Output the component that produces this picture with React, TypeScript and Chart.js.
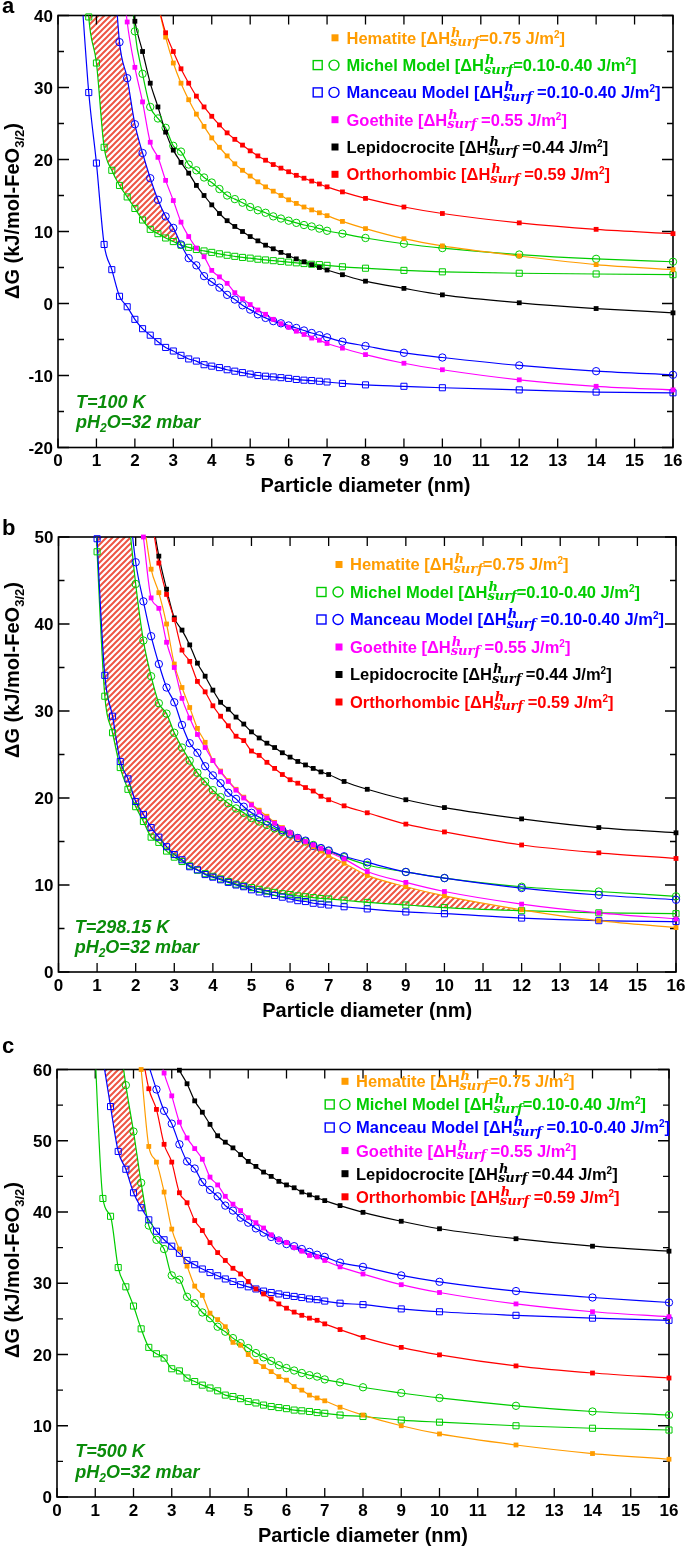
import React, { useEffect, useRef } from 'react';
import { Chart, registerables } from 'chart.js';

Chart.register(...registerables);

const N = null;

// particle diameters (nm) of the sampled points
const D = [0.6, 0.8, 1.0, 1.2, 1.4, 1.6, 1.8, 2.0, 2.2, 2.4, 2.6, 2.8, 3.0, 3.2, 3.4, 3.6, 3.8, 4.0, 4.2, 4.4, 4.6, 4.8, 5.0, 5.2, 5.4, 5.6, 5.8, 6.0, 6.2, 6.4, 6.6, 6.8, 7.0, 7.4, 8, 9, 10, 12, 14, 16];

// ---------- panel a (T = 100 K) ----------
const A_HEMATITE = [N, N, N, N, N, N, N, N, N, N, 41.5, 37.0, 33.4, 30.6, 28.3, 26.3, 24.6, 23.0, 21.7, 20.5, 19.4, 18.5, 17.7, 16.9, 16.2, 15.6, 15.0, 14.4, 13.9, 13.4, 13.0, 12.6, 12.2, 11.4, 10.4, 9.0, 8.0, 6.6, 5.4, 4.7];
const A_MICHEL_SQ = [60, 39.8, 33.4, 21.7, 18.5, 16.4, 14.8, 13.2, 11.6, 10.3, 9.7, 9.1, 8.6, 8.1, 7.8, 7.5, 7.3, 7.1, 6.9, 6.7, 6.55, 6.4, 6.3, 6.15, 6.05, 5.95, 5.85, 5.75, 5.65, 5.55, 5.45, 5.4, 5.3, 5.1, 4.9, 4.6, 4.4, 4.2, 4.1, 4.0];
const A_MICHEL_CI = [N, N, N, N, N, N, 52, 37.8, 31.9, 27.3, 25.7, 24.4, 21.9, 21.1, 19.3, 18.5, 17.5, 16.8, 15.9, 15.0, 14.5, 14.0, 13.4, 12.95, 12.6, 12.1, 11.8, 11.5, 11.2, 10.9, 10.7, 10.4, 10.1, 9.7, 9.1, 8.3, 7.7, 6.8, 6.2, 5.8];
const A_MANCEAU_SQ = [44, 29.3, 19.5, 8.2, 4.7, 1.0, -0.45, -2.2, -3.5, -4.4, -5.3, -6.1, -6.6, -7.2, -7.7, -8.0, -8.5, -8.7, -8.9, -9.2, -9.4, -9.6, -9.8, -10.0, -10.1, -10.2, -10.3, -10.4, -10.55, -10.65, -10.7, -10.8, -10.9, -11.1, -11.3, -11.5, -11.7, -12.0, -12.3, -12.4];
const A_MANCEAU_CI = [N, 130, 95, 70, 52, 36.3, 31.3, 24.9, 20.9, 17.4, 14.4, 12.1, 10.5, 8.2, 6.3, 5.3, 3.8, 3.0, 2.2, 1.2, 0.55, -0.25, -0.85, -1.5, -2.0, -2.45, -2.75, -3.05, -3.4, -3.75, -4.1, -4.4, -4.7, -5.3, -5.9, -6.85, -7.5, -8.6, -9.4, -9.9];
const A_GOETHITE = [N, N, N, N, N, 50, 39.1, 32.8, 28.0, 22.4, 20.3, 17.1, 14.3, 11.3, 9.3, 7.7, 6.5, 4.6, 3.7, 2.8, 1.5, 0.65, -0.15, -0.9, -1.5, -2.2, -2.8, -3.3, -3.85, -4.3, -4.8, -5.1, -5.55, -6.2, -7.1, -8.3, -9.2, -10.6, -11.5, -12.0];
const A_LEPIDO = [N, N, N, N, N, N, 47, 39.2, 35.0, 30.6, 27.3, 23.8, 21.3, 19.6, 18.1, 16.4, 15.0, 13.7, 12.5, 11.5, 10.7, 10.0, 9.3, 8.7, 8.1, 7.6, 7.1, 6.65, 6.2, 5.8, 5.4, 5.0, 4.65, 4.0, 3.1, 2.1, 1.2, 0.1, -0.7, -1.3];
const A_ORTHO = [N, N, N, N, N, N, N, N, N, N, 41.5, 37.6, 35.0, 32.6, 30.6, 28.8, 27.3, 26.0, 24.8, 23.7, 22.8, 22.0, 21.2, 20.5, 19.9, 19.3, 18.8, 18.3, 17.8, 17.4, 17.0, 16.6, 16.2, 15.5, 14.6, 13.4, 12.5, 11.2, 10.3, 9.7];
const A_YTICKS = [-20, -10, 0, 10, 20, 30, 40];

// ---------- panel b (T = 298.15 K) ----------
const B_HEMATITE = [N, N, N, N, N, N, N, N, 52, 46.3, 43.6, 40.0, 35.4, 32.7, 30.4, 28.0, 26.4, 24.3, 23.1, 22.0, 21.0, 20.1, 19.3, 18.6, 17.9, 17.2, 16.6, 16.0, 15.4, 14.9, 14.4, 13.9, 13.4, 12.5, 11.1, 9.8, 8.75, 7.15, 5.9, 5.1];
const B_MICHEL_SQ = [N, 70, 48.3, 31.7, 27.5, 23.5, 21.0, 19.0, 17.3, 15.5, 14.9, 13.9, 13.2, 12.7, 12.2, 11.7, 11.3, 11.0, 10.7, 10.4, 10.1, 9.9, 9.7, 9.5, 9.3, 9.15, 9.0, 8.9, 8.75, 8.65, 8.55, 8.45, 8.4, 8.25, 8.0, 7.7, 7.4, 7.05, 6.8, 6.7];
const B_MICHEL_CI = [N, N, N, N, N, N, 53, 44.6, 38.1, 34.0, 30.9, 29.7, 27.5, 25.8, 24.3, 22.9, 21.9, 20.9, 20.1, 19.4, 18.8, 18.3, 17.7, 17.3, 16.9, 16.5, 16.1, 15.8, 15.4, 15.0, 14.6, 14.2, 13.9, 13.2, 12.3, 11.5, 10.8, 9.8, 9.25, 8.7];
const B_MANCEAU_SQ = [N, 72, 49.8, 34.1, 29.4, 24.2, 22.2, 19.6, 18.1, 16.6, 15.5, 14.4, 13.5, 12.9, 12.1, 11.75, 11.2, 10.9, 10.6, 10.3, 10.0, 9.8, 9.45, 9.2, 9.0, 8.8, 8.6, 8.4, 8.2, 8.1, 7.9, 7.8, 7.7, 7.5, 7.25, 6.9, 6.7, 6.2, 5.9, 5.8];
const B_MANCEAU_CI = [N, N, N, N, N, N, 55, 47.1, 42.6, 38.6, 35.4, 32.7, 31.0, 28.4, 26.3, 25.2, 23.65, 22.6, 21.7, 20.6, 19.9, 19.0, 18.3, 17.8, 17.3, 16.7, 16.3, 15.9, 15.4, 15.1, 14.5, 14.25, 13.97, 13.3, 12.6, 11.5, 10.8, 9.65, 8.85, 8.3];
const B_GOETHITE = [N, N, N, N, N, N, N, 57, 50.0, 43.0, 41.8, 37.9, 35.0, 31.45, 29.2, 27.3, 25.8, 24.3, 23.0, 21.9, 20.9, 20.0, 19.2, 18.4, 17.7, 17.1, 16.5, 16.0, 15.5, 15.0, 14.6, 14.2, 13.8, 13.0, 11.55, 10.3, 9.25, 7.8, 6.8, 6.1];
const B_LEPIDO = [N, N, N, N, N, N, N, N, N, 53, 47.8, 44.0, 40.7, 39.3, 37.6, 35.5, 34.0, 32.4, 31.0, 30.2, 29.3, 28.5, 27.6, 26.9, 26.3, 25.8, 25.2, 24.7, 24.2, 23.8, 23.4, 23.0, 22.7, 21.9, 21.0, 19.8, 18.9, 17.6, 16.6, 16.0];
const B_ORTHO = [N, N, N, N, N, N, N, N, N, 52.5, 47.0, 43.4, 40.5, 37.0, 35.7, 33.4, 32.2, 30.6, 29.4, 28.3, 27.1, 26.6, 25.4, 24.9, 24.1, 23.4, 22.7, 22.1, 21.7, 21.2, 20.8, 20.2, 19.8, 19.1, 18.3, 17.0, 16.1, 14.6, 13.7, 13.05];
// upper edge of the hatched band in panel b
const B_HATCH_X = [1.0, 1.4, 1.8, 2.0, 2.2, 2.4, 2.6, 2.8, 3.0, 3.4, 3.8, 4.2, 4.6, 5.0, 5.6, 6.2, 7.0, 8, 9, 10, 11, 12];
const B_HATCH_Y = [120, 80, 53, 44.6, 38.1, 34.0, 30.9, 29.7, 27.5, 24.3, 21.9, 20.1, 18.8, 17.7, 16.5, 15.35, 13.4, 11.1, 9.8, 8.75, 7.9, 7.05];
const B_YTICKS = [0, 10, 20, 30, 40, 50];

// ---------- panel c (T = 500 K) ----------
const C_HEMATITE = [N, N, N, N, N, N, N, 70, 60.0, 49.2, 47.0, 42.8, 37.6, 34.8, 32.4, 29.6, 28.3, 25.8, 24.9, 23.9, 21.7, 21.3, 20.0, 19.0, 18.3, 17.6, 16.9, 16.4, 15.5, 15.0, 14.3, 13.9, 13.5, 12.6, 11.5, 10.0, 8.85, 7.3, 6.1, 5.3];
const C_MICHEL_SQ = [N, 90, 62, 41.9, 39.4, 32.2, 29.5, 26.8, 23.6, 21.0, 20.1, 19.5, 18.0, 17.7, 16.7, 16.2, 15.7, 15.3, 14.9, 14.3, 14.1, 13.8, 13.4, 13.2, 12.9, 12.7, 12.55, 12.4, 12.2, 12.1, 12.0, 11.85, 11.75, 11.5, 11.3, 10.8, 10.5, 10.0, 9.65, 9.4];
const C_MICHEL_CI = [N, N, N, 90, 76, 66, 57.8, 51.3, 44.1, 38.1, 36.1, 34.8, 31.1, 30.5, 28.1, 27.2, 25.9, 25.1, 23.9, 23.2, 22.3, 21.6, 20.9, 20.2, 19.6, 19.1, 18.5, 18.1, 17.75, 17.4, 17.1, 16.9, 16.5, 16.1, 15.4, 14.6, 13.9, 12.8, 12.0, 11.5];
const C_MANCEAU_SQ = [N, N, N, 61.5, 54.8, 48.5, 46.0, 42.7, 40.6, 38.9, 37.3, 36.1, 35.2, 34.2, 33.2, 32.6, 32.0, 31.5, 31.05, 30.6, 30.25, 29.8, 29.5, 29.2, 28.9, 28.7, 28.5, 28.3, 28.15, 28.0, 27.8, 27.7, 27.5, 27.2, 27.0, 26.4, 26.0, 25.5, 25.1, 24.8];
const C_MANCEAU_CI = [N, N, N, N, N, N, N, N, N, 60.5, 57.2, 54.2, 52.4, 49.5, 47.1, 46.1, 44.2, 43.1, 42.2, 40.9, 40.2, 39.2, 38.5, 37.7, 37.1, 36.5, 36.0, 35.5, 35.2, 34.8, 34.4, 34.0, 33.7, 32.9, 32.3, 31.1, 30.2, 28.9, 28.0, 27.3];
const C_GOETHITE = [N, N, N, N, N, N, N, N, N, N, 64, 59.5, 56.3, 52.6, 50.4, 48.9, 47.4, 44.9, 43.8, 42.2, 41.1, 40.2, 39.2, 38.5, 37.75, 36.8, 36.1, 35.7, 35.0, 34.5, 33.9, 33.7, 33.2, 32.3, 31.3, 29.8, 28.7, 27.1, 26.0, 25.3];
const C_LEPIDO = [N, N, N, N, N, N, N, N, N, N, N, N, 62.5, 59.9, 58.0, 55.6, 54.0, 52.3, 50.7, 49.8, 49.0, 48.05, 47.1, 46.4, 45.6, 45.0, 44.3, 43.8, 43.4, 42.8, 42.4, 42.0, 41.6, 40.9, 39.95, 38.7, 37.65, 36.25, 35.2, 34.5];
const C_ORTHO = [N, N, N, N, N, N, N, N, 63, 57.3, 54.4, 49.5, 47.0, 42.7, 41.3, 38.8, 37.4, 35.7, 34.3, 33.2, 32.1, 31.3, 30.25, 29.2, 28.5, 27.8, 27.1, 26.5, 25.95, 25.5, 25.1, 24.8, 24.3, 23.5, 22.4, 21.0, 19.95, 18.4, 17.4, 16.7];
const C_YTICKS = [0, 10, 20, 30, 40, 50, 60];

const X_TICKS = [0, 1, 2, 3, 4, 5, 6, 7, 8, 9, 10, 11, 12, 13, 14, 15, 16];

const LEGEND_NAMES = ['Hematite', 'Michel Model', 'Manceau Model', 'Goethite', 'Lepidocrocite', 'Orthorhombic'];
const LEGEND_VALUES = ['0.75', '0.10-0.40', '0.10-0.40', '0.55', '0.44', '0.59'];
const LEGEND_GAP = [false, false, true, true, true, true];

const ORANGE = '#ff9c00';
const GREEN = '#00cc00';
const BLUE = '#0000ff';
const MAGENTA = '#ff00ff';
const RED = '#ff0000';
const BLACK = '#000000';
const NOTE_GREEN = '#0a8c0a';
const CLEAR = 'rgba(0,0,0,0)';

const STYLE: any = {
  hem: { color: ORANGE, shape: 'fsq' },
  micSq: { color: GREEN, shape: 'osq' },
  micCi: { color: GREEN, shape: 'oci' },
  manSq: { color: BLUE, shape: 'osq' },
  manCi: { color: BLUE, shape: 'oci' },
  goe: { color: MAGENTA, shape: 'fsq' },
  lep: { color: BLACK, shape: 'fsq' },
  ort: { color: RED, shape: 'fsq' },
};
const LEGEND_COLORS = [ORANGE, GREEN, BLUE, MAGENTA, BLACK, RED];
const LEGEND_MARKS = [['fsq'], ['osq', 'oci'], ['osq', 'oci'], ['fsq'], ['fsq'], ['fsq']];

const SANS = '"Liberation Sans", Arial, Helvetica, sans-serif';
const SERIF = '"DejaVu Serif", "Liberation Serif", serif';

const PANELS: any[] = [
  {
    key: 'a', top: 0, h: 500, area: { l: 58, r: 673, t: 15.5, b: 447.5 }, yMin: -20, yMax: 40, yTicks: A_YTICKS,
    series: { ort: A_ORTHO, lep: A_LEPIDO, goe: A_GOETHITE, hem: A_HEMATITE, manCi: A_MANCEAU_CI, manSq: A_MANCEAU_SQ, micCi: A_MICHEL_CI, micSq: A_MICHEL_SQ },
    hatch: { src: 'manCi', tgt: 'micSq' },
    legend: { tx: 346.5, y0: 37.8, dy: 27.3, mf: 335, mo: 317.7, mc: 334 },
    note: { x: 76, b1: 408.3, b2: 428.3, t: 'T=100 K' },
    yTitle: { x: 19, yc: 211 }, xTitleBase: 492, letterBase: 13,
  },
  {
    key: 'b', top: 500, h: 520, area: { l: 58.5, r: 676, t: 537, b: 972 }, yMin: 0, yMax: 50, yTicks: B_YTICKS,
    series: { ort: B_ORTHO, lep: B_LEPIDO, goe: B_GOETHITE, hem: B_HEMATITE, manCi: B_MANCEAU_CI, manSq: B_MANCEAU_SQ, micCi: B_MICHEL_CI, micSq: B_MICHEL_SQ },
    hatch: { xs: B_HATCH_X, ys: B_HATCH_Y, tgt: 'micSq' },
    legend: { tx: 350, y0: 564.5, dy: 27.5, mf: 339, mo: 321.5, mc: 338 },
    note: { x: 74.7, b1: 933.3, b2: 953.3, t: 'T=298.15 K' },
    yTitle: { x: 19, yc: 670 }, xTitleBase: 1016.5, letterBase: 535,
  },
  {
    key: 'c', top: 1020, h: 526, area: { l: 57, r: 669, t: 1069.5, b: 1497 }, yMin: 0, yMax: 60, yTicks: C_YTICKS,
    series: { ort: C_ORTHO, lep: C_LEPIDO, goe: C_GOETHITE, hem: C_HEMATITE, manCi: C_MANCEAU_CI, manSq: C_MANCEAU_SQ, micCi: C_MICHEL_CI, micSq: C_MICHEL_SQ },
    hatch: { src: 'micCi', tgt: 'manSq' },
    legend: { tx: 356, y0: 1081.3, dy: 23.1, mf: 345, mo: 329.7, mc: 345 },
    note: { x: 75.3, b1: 1457.3, b2: 1478.3, t: 'T=500 K' },
    yTitle: { x: 19, yc: 1270 }, xTitleBase: 1541.5, letterBase: 1053,
  },
];

function toPoints(ys: any[]) {
  const out: any[] = [];
  ys.forEach((y, i) => { if (y !== null) out.push({ x: D[i], y }); });
  return out;
}

function segsWidth(ctx: any, segs: any[]) {
  let w = 0;
  for (const s of segs) {
    ctx.font = s.f;
    if (s.t !== undefined) w += ctx.measureText(s.t).width;
    else w += Math.max(ctx.measureText(s.sup).width + 1, ctx.measureText(s.sub).width);
  }
  return w;
}

function drawSegs(ctx: any, segs: any[], x: number, y: number) {
  let cx = x;
  ctx.textAlign = 'left';
  ctx.textBaseline = 'alphabetic';
  for (const s of segs) {
    ctx.font = s.f;
    if (s.t !== undefined) {
      ctx.fillText(s.t, cx, y + (s.dy || 0));
      cx += ctx.measureText(s.t).width;
    } else {
      ctx.fillText(s.sup, cx + 1, y + s.supDy);
      ctx.fillText(s.sub, cx, y + s.subDy);
      cx += Math.max(ctx.measureText(s.sup).width + 1, ctx.measureText(s.sub).width);
    }
  }
  return cx - x;
}

function drawMark(ctx: any, shape: string, x: number, y: number, color: string) {
  ctx.save();
  ctx.fillStyle = color;
  ctx.strokeStyle = color;
  ctx.lineWidth = 1.4;
  if (shape === 'fsq') ctx.fillRect(x - 3.5, y - 3.5, 7, 7);
  else if (shape === 'osq') ctx.strokeRect(x - 4.5, y - 4.5, 9, 9);
  else { ctx.beginPath(); ctx.arc(x, y, 5, 0, Math.PI * 2); ctx.stroke(); }
  ctx.restore();
}

function makeDecor(p: any) {
  const T = p.top;
  return {
    id: 'decor_' + p.key,
    beforeDatasetsDraw(chart: any) {
      const ctx = chart.ctx;
      const a = chart.chartArea;
      const xs = chart.scales.x;
      const ys = chart.scales.y;
      ctx.save();
      ctx.strokeStyle = '#000';
      ctx.lineWidth = 1.3;
      ctx.beginPath();
      X_TICKS.forEach((v) => {
        const px = xs.getPixelForValue(v);
        ctx.moveTo(px, a.bottom); ctx.lineTo(px, a.bottom - 9);
        ctx.moveTo(px, a.top); ctx.lineTo(px, a.top + 9);
      });
      const yt = p.yTicks;
      yt.forEach((v: number, i: number) => {
        const py = ys.getPixelForValue(v);
        ctx.moveTo(a.left, py); ctx.lineTo(a.left + 11, py);
        ctx.moveTo(a.right, py); ctx.lineTo(a.right - 11, py);
        if (i < yt.length - 1) {
          const pm = ys.getPixelForValue((v + yt[i + 1]) / 2);
          ctx.moveTo(a.left, pm); ctx.lineTo(a.left + 6, pm);
          ctx.moveTo(a.right, pm); ctx.lineTo(a.right - 6, pm);
        }
      });
      ctx.stroke();
      ctx.lineWidth = 1.6;
      ctx.strokeRect(a.left, a.top, a.right - a.left, a.bottom - a.top);
      ctx.restore();
    },
    afterDraw(chart: any) {
      const ctx = chart.ctx;
      const a = chart.chartArea;
      const xs = chart.scales.x;
      const ys = chart.scales.y;
      ctx.save();
      ctx.fillStyle = '#000';
      // tick labels
      ctx.font = `bold 17px ${SANS}`;
      ctx.textAlign = 'center';
      ctx.textBaseline = 'alphabetic';
      X_TICKS.forEach((v) => ctx.fillText(String(v), xs.getPixelForValue(v), a.bottom + 18.5));
      ctx.textAlign = 'right';
      p.yTicks.forEach((v: number) => ctx.fillText(String(v), a.left - 5, ys.getPixelForValue(v) + 6));
      // x title
      ctx.font = `bold 20px ${SANS}`;
      ctx.textAlign = 'center';
      ctx.fillText('Particle diameter (nm)', (a.left + a.right) / 2, p.xTitleBase - T);
      // y title
      const ySegs = [
        { t: 'ΔG (kJ/mol-FeO', f: `bold 20px ${SANS}` },
        { t: '3/2', f: `bold 13px ${SANS}`, dy: 5 },
        { t: ')', f: `bold 20px ${SANS}` },
      ];
      const yw = segsWidth(ctx, ySegs);
      ctx.save();
      ctx.translate(p.yTitle.x, p.yTitle.yc - T);
      ctx.rotate(-Math.PI / 2);
      drawSegs(ctx, ySegs, -yw / 2, 0);
      ctx.restore();
      // panel letter
      ctx.font = `bold 22px ${SANS}`;
      ctx.textAlign = 'left';
      ctx.fillText(p.key, 2, p.letterBase - T);
      // conditions note
      ctx.fillStyle = NOTE_GREEN;
      const FA = `italic bold 18px ${SANS}`;
      drawSegs(ctx, [{ t: p.note.t, f: FA }], p.note.x, p.note.b1 - T);
      drawSegs(ctx, [{ t: 'pH', f: FA }, { t: '2', f: `italic bold 12px ${SANS}`, dy: 4 }, { t: 'O=32 mbar', f: FA }], p.note.x, p.note.b2 - T);
      // legend
      const L = p.legend;
      LEGEND_NAMES.forEach((name, i) => {
        const cy = L.y0 + i * L.dy - T;
        const color = LEGEND_COLORS[i];
        const marks = LEGEND_MARKS[i];
        if (marks.length === 1) drawMark(ctx, marks[0], L.mf, cy, color);
        else { drawMark(ctx, 'osq', L.mo, cy, color); drawMark(ctx, 'oci', L.mc, cy, color); }
        ctx.fillStyle = color;
        const F = `bold 16.5px ${SANS}`;
        drawSegs(ctx, [
          { t: name + ' [ΔH', f: F },
          { sup: 'h', sub: 'surf', f: `italic bold 13px ${SERIF}`, supDy: -7, subDy: 2.5 },
          { t: (LEGEND_GAP[i] ? ' =' : '=') + LEGEND_VALUES[i] + ' J/m', f: F },
          { t: '2', f: `bold 10px ${SANS}`, dy: -6 },
          { t: ']', f: F },
        ], L.tx, cy + 5.9);
      });
      ctx.restore();
    },
  };
}

function makeHatch(ctx: any) {
  const s = 6;
  const c = document.createElement('canvas');
  c.width = s; c.height = s;
  const g = c.getContext('2d') as any;
  g.fillStyle = '#ffffff';
  g.fillRect(0, 0, s, s);
  g.strokeStyle = '#ee5544';
  g.lineWidth = 2;
  g.beginPath();
  g.moveTo(-1, s + 1); g.lineTo(s + 1, -1);
  g.moveTo(-1, 1); g.lineTo(1, -1);
  g.moveTo(s - 1, s + 1); g.lineTo(s + 1, s - 1);
  g.stroke();
  return ctx.createPattern(c, 'repeat');
}

function buildConfig(canvas: HTMLCanvasElement, p: any) {
  const pattern = makeHatch(canvas.getContext('2d'));
  const keys = Object.keys(p.series);
  const markerDs = keys.map((k) => {
    const st = STYLE[k];
    const filled = st.shape === 'fsq';
    return {
      data: toPoints(p.series[k]).filter((q) => q.y >= p.yMin && q.y <= p.yMax),
      showLine: false,
      pointStyle: st.shape === 'oci' ? 'circle' : 'rect',
      pointRadius: filled ? 3.4 : st.shape === 'osq' ? 4.3 : 3.7,
      pointBorderWidth: filled ? 0 : 1,
      pointBorderColor: st.color,
      pointBackgroundColor: filled ? st.color : CLEAR,
      borderColor: st.color,
      fill: false,
      clip: false,
    };
  });
  const lineDs: any[] = keys.map((k) => ({
    data: toPoints(p.series[k]),
    borderColor: STYLE[k].color,
    borderWidth: 1.2,
    pointRadius: 0,
    cubicInterpolationMode: 'monotone',
    fill: false,
    clip: 0,
  }));
  const datasets: any[] = [...markerDs, ...lineDs];
  const lineIndex = (k: string) => markerDs.length + keys.indexOf(k);
  const fillSpec = { target: lineIndex(p.hatch.tgt), above: pattern, below: CLEAR };
  if (p.hatch.src) {
    lineDs[keys.indexOf(p.hatch.src)].fill = fillSpec;
  } else {
    datasets.push({
      data: p.hatch.xs.map((x: number, i: number) => ({ x, y: p.hatch.ys[i] })),
      borderColor: CLEAR,
      borderWidth: 0,
      pointRadius: 0,
      cubicInterpolationMode: 'monotone',
      clip: 0,
      fill: fillSpec,
    });
  }
  const W = 685;
  return {
    type: 'line',
    data: { datasets },
    options: {
      animation: false,
      responsive: false,
      maintainAspectRatio: false,
      events: [],
      layout: { padding: { left: p.area.l, right: W - p.area.r, top: p.area.t - p.top, bottom: p.h - (p.area.b - p.top) } },
      scales: {
        x: { type: 'linear', min: 0, max: 16, display: false },
        y: { type: 'linear', min: p.yMin, max: p.yMax, display: false },
      },
      elements: { line: { capBezierPoints: false } },
      plugins: {
        legend: { display: false },
        tooltip: { enabled: false },
        filler: { propagate: false, drawTime: 'beforeDatasetsDraw' },
      },
    },
    plugins: [makeDecor(p)],
  } as any;
}

function Panel({ p }: { p: any }) {
  const ref = useRef<HTMLCanvasElement>(null);
  useEffect(() => {
    const canvas = ref.current as HTMLCanvasElement;
    const chart = new Chart(canvas, buildConfig(canvas, p));
    return () => chart.destroy();
  }, [p]);
  return (
    <canvas
      ref={ref}
      width={685}
      height={p.h}
      style={{ position: 'absolute', left: 0, top: p.top, width: 685, height: p.h }}
    />
  );
}

export default function App() {
  return (
    <div style={{ position: 'absolute', left: 0, top: 0, width: 685, height: 1546, background: '#ffffff', overflow: 'hidden' }}>
      {PANELS.map((p) => <Panel key={p.key} p={p} />)}
    </div>
  );
}
